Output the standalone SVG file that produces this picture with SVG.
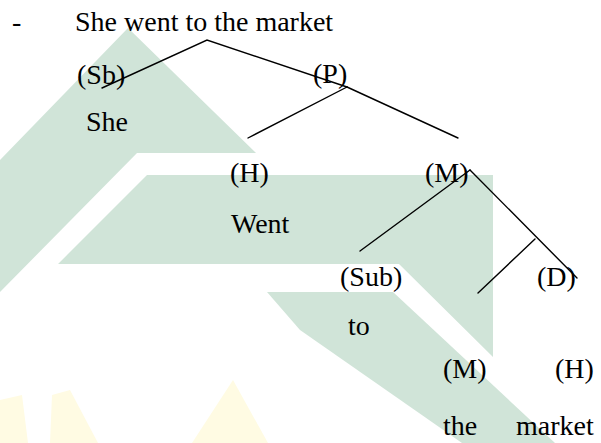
<svg xmlns="http://www.w3.org/2000/svg" width="601" height="443" viewBox="0 0 601 443">
<style>
.t{font-family:"Liberation Serif","Times New Roman",serif;font-size:28px;fill:#000}
.wm{fill:#d0e4d8}
.wy{fill:#fffbe3}
.c{stroke:#000;stroke-width:1.4;fill:none;stroke-linecap:round}
</style>
<rect width="601" height="443" fill="#fff"/>
<g id="watermark">
<polygon class="wm" points="128,28 256,153 137,153 0,292 0,160"/>
<polygon class="wm" points="147,175 493,175 493,357 399,264 58,264"/>
<polygon class="wm" points="267,292 393,292 555,443 462,443 300,330"/>
<polygon class="wy" points="0,400 22,395 28,443 0,443"/>
<polygon class="wy" points="52,395 70,390 98,443 50,443"/>
<polygon class="wy" points="233,380 268,443 192,443"/>
</g>
<g id="connectors">
<polyline class="c" points="102,88 207,40 347,87"/>
<line class="c" x1="347" y1="87" x2="248" y2="138"/>
<line class="c" x1="347" y1="87" x2="458" y2="138"/>
<line class="c" x1="470" y1="170" x2="360" y2="251"/>
<line class="c" x1="470" y1="170" x2="577" y2="278"/>
<line class="c" x1="535" y1="239" x2="478" y2="293"/>
</g>
<g id="title"><text class="t" x="12" y="31">-</text><text class="t" x="75" y="31">She went to the market</text></g>
<g id="node-sb"><text class="t" x="77" y="84">(Sb)</text><text class="t" x="86" y="131">She</text></g>
<g id="node-p"><text class="t" x="313" y="83">(P)</text></g>
<g id="node-h"><text class="t" x="230" y="182">(H)</text><text class="t" x="231" y="233">Went</text></g>
<g id="node-m"><text class="t" x="425" y="182">(M)</text></g>
<g id="node-sub"><text class="t" x="340" y="286">(Sub)</text><text class="t" x="348" y="335">to</text></g>
<g id="node-d"><text class="t" x="537" y="286">(D)</text></g>
<g id="node-m2"><text class="t" x="443" y="378">(M)</text><text class="t" x="443" y="435">the</text></g>
<g id="node-h2"><text class="t" x="555" y="378">(H)</text><text class="t" x="516" y="435">market</text></g>
</svg>
